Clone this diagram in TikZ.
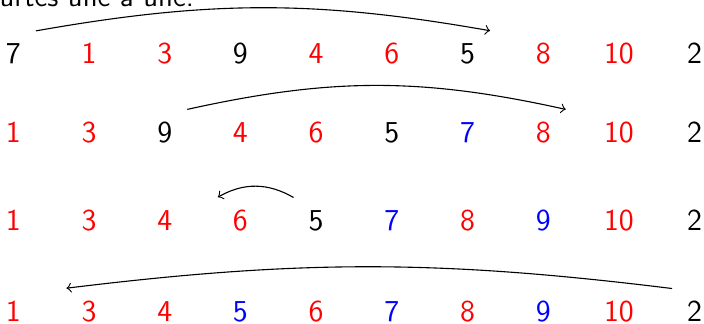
\documentclass[tikz,border=0pt]{standalone}
\usepackage{fontspec}
\begin{document}
\begin{tikzpicture}[x=0.362pt,y=-0.362pt,
  num/.style={font=\sffamily\fontsize{11}{13}\selectfont, inner sep=0pt,
    minimum width=15.93pt},
  arr/.style={->, line width=0.4pt},
  up/.style={yshift=4.4pt}]
\useasboundingbox (0,0) rectangle (704,324);
\clip (0,0) rectangle (704,324);
\node[font=\sffamily\fontsize{10.4}{12}\selectfont, anchor=base west, inner sep=0pt] (top) at (-1,6) {urtes une à une.};
\foreach \v/\c [count=\i] in {7/black,1/red,3/red,9/black,4/red,6/red,5/black,8/red,10/red,2/black}
  \node[num, text=\c] (a\i) at ({13.3+75.7*(\i-1)},53.7) {\v};
\foreach \v/\c [count=\i] in {1/red,3/red,9/black,4/red,6/red,5/black,7/blue,8/red,10/red,2/black}
  \node[num, text=\c] (b\i) at ({13.3+75.7*(\i-1)},132.7) {\v};
\foreach \v/\c [count=\i] in {1/red,3/red,4/red,6/red,5/black,7/blue,8/red,9/blue,10/red,2/black}
  \node[num, text=\c] (c\i) at ({13.3+75.7*(\i-1)},220.5) {\v};
\foreach \v/\c [count=\i] in {1/red,3/red,4/red,5/blue,6/red,7/blue,8/red,9/blue,10/red,2/black}
  \node[num, text=\c] (d\i) at ({13.3+75.7*(\i-1)},311.5) {\v};
\draw[arr] ([up]a1.north east) to[bend left=10] ([up]a7.north east);
\draw[arr] ([up]b3.north east) to[bend left=12.5] ([up]b8.north east);
\draw[arr] ([up]c5.north west) to[bend right=30] ([up]c4.north west);
\draw[arr] ([up]d10.north west) to[bend right=7] ([up]d2.north west);
\end{tikzpicture}
\end{document}
